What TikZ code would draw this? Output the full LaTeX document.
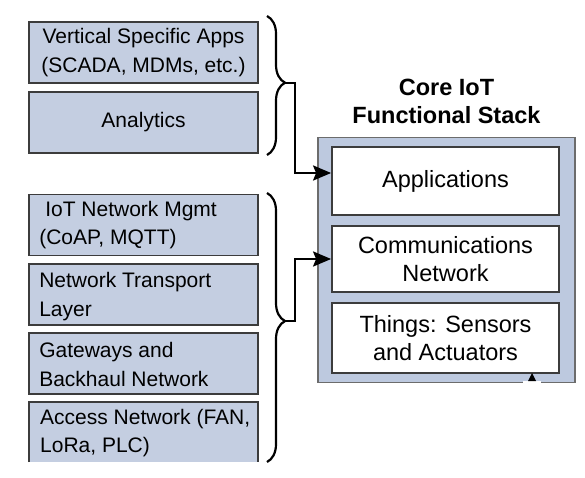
\documentclass[tikz,border=0pt]{standalone}
\usepackage{fontspec}
\setmainfont{Liberation Sans}
\usetikzlibrary{arrows.meta,decorations.pathreplacing,calc}
\definecolor{boxfill}{HTML}{C4CEE1}
\definecolor{stackfill}{HTML}{BDC9DF}
\definecolor{boxline}{HTML}{3C3C3C}
\tikzset{
  lbox/.style={draw=boxline, line width=1.8pt, fill=boxfill, minimum width=229pt, minimum height=61pt, inner sep=0pt},
  ltext/.style={font=\fontsize{21}{28.5}\selectfont, align=left, anchor=west, inner sep=0pt},
  ctext/.style={font=\fontsize{21}{28.5}\selectfont, align=center, inner sep=0pt},
  ibox/.style={draw=boxline, line width=1.8pt, fill=white, minimum width=227pt, inner sep=0pt, align=center, font=\fontsize{23.5}{28.5}\selectfont},
  bracebar/.style={line width=2.2pt, decorate, decoration={brace, amplitude=18pt}},
  conn/.style={line width=2.6pt, -{Stealth[length=18pt,width=15pt,inset=3pt]}},
}
\begin{document}
\begin{tikzpicture}[x=1pt,y=-1pt]
\useasboundingbox (0,0) rectangle (585,478);
\fill[white] (0,0) rectangle (585,478);
% left boxes
\node[lbox] (b1) at (143.5,52.5) {};
\node[ctext] (t1) at (b1.center) {Vertical Specific Apps\\(SCADA, MDMs, etc.)};
\node[lbox] (b2) at (143.5,122.5) {};
\node[ctext] (t2) at (b2.center) {Analytics};
\node[lbox] (b3) at (143.5,225) {};
\node[ltext] (t3) at ([xshift=11pt]b3.west) {\hspace{6pt}IoT Network Mgmt\\(CoAP, MQTT)};
\node[lbox] (b4) at (143.5,294.5) {};
\node[ltext] (t4) at ([xshift=11pt,yshift=-2pt]b4.west) {Network Transport\\Layer};
\node[lbox] (b5) at (143.5,363.5) {};
\node[ltext] (t5) at ([xshift=11pt,yshift=-1pt]b5.west) {Gateways and\\Backhaul Network};
% last box, open at the bottom
\fill[boxfill] (29,402) rectangle (258,462);
\draw[boxline, line width=1.8pt] (29,462) -- (29,402) -- (258,402) -- (258,462);
\node[ltext] (t6) at (40,433) {Access Network (FAN,\\LoRa, PLC)};
% braces
\draw[bracebar, decoration={aspect=0.48}] (267,16) -- (267,155);
\coordinate (tip1) at (285,83);
\draw[bracebar, decoration={aspect=0.476}] (267,193) -- (267,462);
\coordinate (tip2) at (285,321);
% stack
\node[font=\bfseries\fontsize{23.5}{28}\selectfont, align=center, inner sep=0pt] (title) at (446.5,101) {Core IoT\\Functional Stack};
\node[draw=gray!85!black, line width=1.8pt, fill=stackfill, minimum width=257pt, minimum height=245pt, inner sep=0pt] (stack) at (446.5,260) {};
\node[ibox, minimum height=68pt] (app) at (445.5,181) {Applications};
\node[ibox, minimum height=66pt] (comm) at (445.5,259) {Communications\\Network};
\node[ibox, minimum height=70pt] (things) at (445.5,338) {Things: Sensors\\and Actuators};
\draw[white, line width=2.4pt] (523,382.5) -- (541,382.5);
\fill[black] (528,381) -- (532,373) -- (536,381) -- cycle;
% connectors
\draw[conn] (tip1) -- ++(10,0) |- ([yshift=8pt]app.west);
\draw[conn] (tip2) -- ++(10,0) |- (comm.west);
\end{tikzpicture}
\end{document}
